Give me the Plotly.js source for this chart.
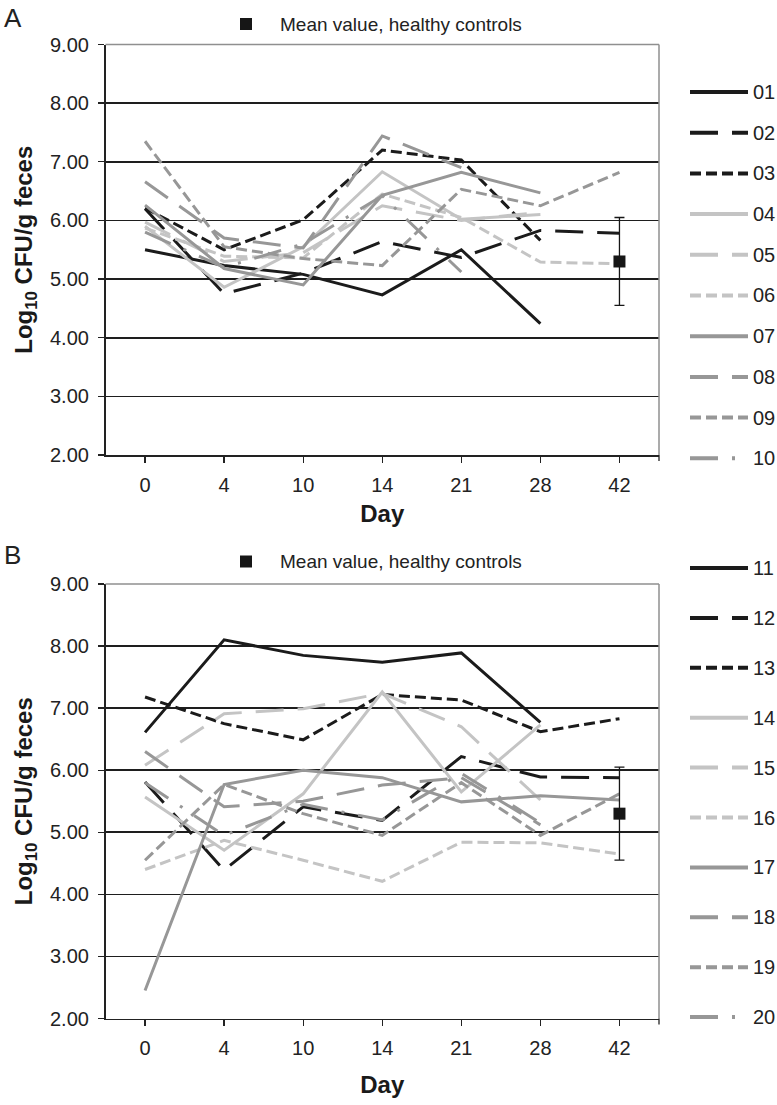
<!DOCTYPE html>
<html><head><meta charset="utf-8">
<script src="https://cdn.plot.ly/plotly-3.0.1.min.js"></script>
<style>html,body{margin:0;padding:0;background:#fff}#chart{width:777px;height:1105px}</style>
</head><body><div id="chart"></div>
<script>
// ---- data ----
const days = ["0", "4", "10", "14", "21", "28", "42"];
const yTicks = [2, 3, 4, 5, 6, 7, 8, 9];
const patientsA = ["01", "02", "03", "04", "05", "06", "07", "08", "09", "10"];
const patientsB = ["11", "12", "13", "14", "15", "16", "17", "18", "19", "20"];

const p01 = [5.50, 5.23, 5.08, 4.73, 5.50, 4.24, null];
const p02 = [6.20, 4.75, 5.10, 5.64, 5.37, 5.83, 5.78];
const p03 = [6.21, 5.50, 6.01, 7.20, 7.03, 5.66, null];
const p04 = [5.90, 4.86, 5.55, 6.83, 6.02, 6.10, null];
const p05 = [5.97, 5.30, 5.45, 6.25, 6.00, 6.14, null];
const p06 = [5.87, 5.39, 5.36, 6.45, 6.05, 5.29, 5.26];
const p07 = [6.26, 5.18, 4.90, 6.43, 6.82, 6.47, null];
const p08 = [6.66, 5.70, 5.53, 7.44, 6.90, null, null];
const p09 = [7.35, 5.55, 5.35, 5.23, 6.53, 6.25, 6.82];
const p10 = [5.80, 5.20, 5.60, 6.42, 5.12, null, null];

const p11 = [6.61, 8.10, 7.85, 7.74, 7.89, 6.77, null];
const p12 = [5.81, 4.39, 5.41, 5.19, 6.22, 5.89, 5.88];
const p13 = [7.18, 6.75, 6.49, 7.22, 7.13, 6.62, 6.83];
const p14 = [5.57, 4.71, 5.62, 7.26, 5.65, 6.73, null];
const p15 = [6.08, 6.91, 6.99, 7.24, 6.70, 5.52, null];
const p16 = [4.40, 4.87, 4.55, 4.21, 4.84, 4.83, 4.65];
const p17 = [2.45, 5.77, 6.00, 5.88, 5.49, 5.59, 5.52];
const p18 = [6.30, 5.41, 5.50, 5.76, 5.88, 5.12, null];
const p19 = [4.55, 5.77, 5.30, 4.95, 5.80, 4.95, 5.62];
const p20 = [5.80, 4.95, 5.45, 5.20, 5.95, 5.15, null];

const seriesA = [p01, p02, p03, p04, p05, p06, p07, p08, p09, p10];
const seriesB = [p11, p12, p13, p14, p15, p16, p17, p18, p19, p20];

const meanDay = "42";
const meanHealthy = 5.30;
const meanHealthyError = 0.75;
const meanLabel = "Mean value, healthy controls";

// ---- styles ----
const BLACK = '#1b1b1b', GRAY = '#979797', LIGHT = '#c4c4c4';
const SOLID = 'solid', LONG = '28px,14px', SHORT = '11px,5px', DASHDOT = '28px,14px,3px,14px';
const seriesColors = [BLACK, BLACK, BLACK, LIGHT, LIGHT, LIGHT, GRAY, GRAY, GRAY, GRAY];
const seriesDashes = [SOLID, LONG, SHORT, SOLID, LONG, SHORT, SOLID, LONG, SHORT, DASHDOT];

const W = 777, H = 1105;
const px = x => x / W, py = y => 1 - y / H;
const FONT = 'Liberation Sans, Arial, Helvetica, sans-serif';

const panels = [
  {names: patientsA, series: seriesA, xa: 'x', ya: 'y', top: 44.5, bottom: 455, legTop: 92, legStep: 40.7, meanY: 24, letter: 'A', letterY: 18},
  {names: patientsB, series: seriesB, xa: 'x2', ya: 'y2', top: 584, bottom: 1018.5, legTop: 568, legStep: 49.9, meanY: 561.5, letter: 'B', letterY: 555}
];

const traces = [];
const shapes = [];
const annotations = [];
const plotL = 105.5, plotR = 659;

panels.forEach(p => {
  p.series.forEach((vals, i) => {
    traces.push({
      type: 'scatter', mode: 'lines', x: days, y: vals, name: p.names[i],
      xaxis: p.xa, yaxis: p.ya, connectgaps: false, hoverinfo: 'skip',
      line: {color: seriesColors[i], width: 3, dash: seriesDashes[i]}
    });
    const ly = p.legTop + i * p.legStep;
    shapes.push({type: 'line', xref: 'paper', yref: 'paper', x0: px(690), x1: px(748), y0: py(ly), y1: py(ly),
      line: {color: seriesColors[i], width: 4, dash: seriesDashes[i]}});
    annotations.push({xref: 'paper', yref: 'paper', x: px(751), y: py(ly), xanchor: 'left', yanchor: 'middle',
      text: p.names[i], showarrow: false, font: {size: 20, family: FONT, color: '#222'}});
  });
  traces.push({
    type: 'scatter', mode: 'markers', x: [meanDay], y: [meanHealthy], name: meanLabel,
    xaxis: p.xa, yaxis: p.ya, hoverinfo: 'skip',
    marker: {symbol: 'square', size: 12, color: '#161616'},
    error_y: {type: 'data', array: [meanHealthyError], visible: true, color: '#161616', thickness: 1.3, width: 5}
  });
  shapes.push({type: 'rect', xref: 'paper', yref: 'paper', x0: px(240), x1: px(252), y0: py(p.meanY - 6), y1: py(p.meanY + 6),
    fillcolor: '#161616', line: {width: 0}});
  annotations.push({xref: 'paper', yref: 'paper', x: px(278), y: py(p.meanY), xanchor: 'left', yanchor: 'middle',
    text: meanLabel, showarrow: false, font: {size: 19, family: FONT, color: '#222'}});
  annotations.push({xref: 'paper', yref: 'paper', x: px(2), y: py(p.letterY), xanchor: 'left', yanchor: 'middle',
    text: p.letter, showarrow: false, font: {size: 26, family: FONT, color: '#222'}});
  shapes.push({type: 'line', xref: 'paper', yref: 'paper', x0: px(plotL), x1: px(plotR), y0: py(p.top), y1: py(p.top),
    line: {color: '#8f8f8f', width: 1.5}});
  shapes.push({type: 'line', xref: 'paper', yref: 'paper', x0: px(plotR), x1: px(plotR), y0: py(p.top), y1: py(p.bottom),
    line: {color: '#8f8f8f', width: 1.5}});
  shapes.push({type: 'line', xref: 'paper', yref: 'paper', x0: px(plotR), x1: px(plotR), y0: py(p.bottom), y1: py(p.bottom + 6),
    line: {color: '#222', width: 1.3}});
});

function xAxis(anchor, standoff) {
  return {
    domain: [px(plotL), px(plotR)], anchor: anchor, type: 'category',
    categoryorder: 'array', categoryarray: days, range: [-0.5, 6.5],
    ticks: 'outside', ticklen: 6, tickwidth: 1.3, tickcolor: '#222', ticklabelstandoff: 5,
    showline: true, linecolor: '#222', linewidth: 1.6, showgrid: false, zeroline: false,
    tickfont: {size: 20, family: FONT, color: '#222'}, fixedrange: true,
    title: {text: '<b>Day</b>', font: {size: 24, family: FONT, color: '#1a1a1a'}, standoff: standoff}
  };
}
function yAxis(anchor, top, bottom) {
  return {
    domain: [py(bottom), py(top)], anchor: anchor, range: [2, 9],
    tickmode: 'array', tickvals: yTicks, tickformat: '.2f',
    ticks: 'outside', ticklen: 6, tickwidth: 1.3, tickcolor: '#222', ticklabelstandoff: 5,
    showline: true, linecolor: '#222', linewidth: 1.6,
    showgrid: true, gridcolor: '#1e1e1e', gridwidth: 1.6, zeroline: false,
    tickfont: {size: 20, family: FONT, color: '#222'}, fixedrange: true,
    title: {text: '<b>Log<sub>10</sub> CFU/g feces</b>', font: {size: 24, family: FONT, color: '#1a1a1a'}, standoff: 10}
  };
}

const layout = {
  width: W, height: H, margin: {l: 0, r: 0, t: 0, b: 0},
  paper_bgcolor: '#fff', plot_bgcolor: '#fff', showlegend: false,
  font: {family: FONT, color: '#222'},
  xaxis: xAxis('y', 10),
  yaxis: yAxis('x', 44.5, 455),
  xaxis2: xAxis('y2', 18),
  yaxis2: yAxis('x2', 584, 1018.5),
  shapes: shapes, annotations: annotations
};

Plotly.newPlot('chart', traces, layout, {staticPlot: true, displayModeBar: false});
</script></body></html>
